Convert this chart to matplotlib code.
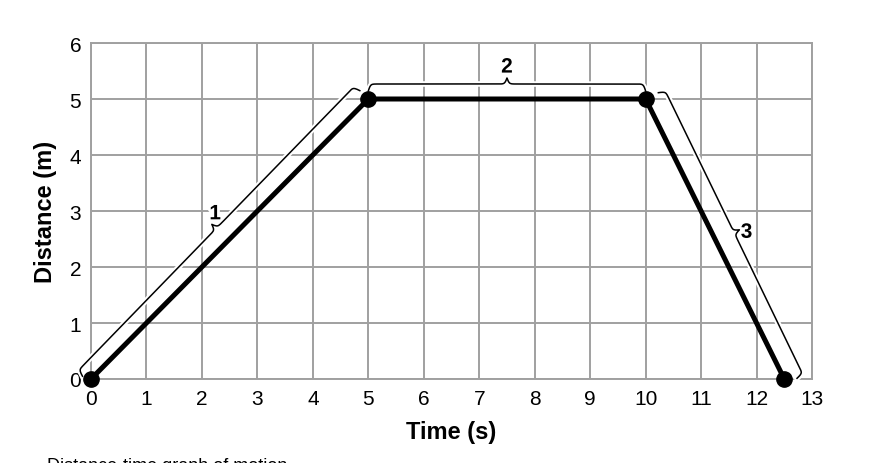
import numpy as np
import matplotlib.pyplot as plt
import matplotlib.patheffects as pe

plt.rcParams['font.family'] = ['Liberation Sans', 'DejaVu Sans']

# data
time_s = [0, 5, 10, 12.5]
distance_m = [0, 5, 5, 0]
x_ticks = list(range(0, 14))
y_ticks = list(range(0, 7))
segment_labels = ['1', '2', '3']
label_pos = [(2.24, 2.95), (7.5, 5.57), (11.82, 2.62)]

fig = plt.figure(figsize=(8.85, 4.64), dpi=100)
ax = fig.add_axes([91 / 885, 84 / 464, 721 / 885, 336 / 464])
ax.set_xlim(0, 13)
ax.set_ylim(0, 6)
ax.set_xticks(x_ticks)
ax.set_yticks(y_ticks)
ax.grid(True, color='#a0a0a0', linewidth=1.4)
ax.set_axisbelow(True)
for sp in ax.spines.values():
    sp.set_color('#a0a0a0')
    sp.set_linewidth(1.4)
ax.tick_params(length=0, labelsize=15)
ax.tick_params(axis='x', pad=7)
ax.tick_params(axis='y', pad=7)

ax.plot(time_s, distance_m, color='black', linewidth=3.6, marker='o',
        markersize=11, clip_on=False, zorder=5)

# pixels per data unit, used to draw braces in roughly screen space
sx = 721 / 13
sy = 336 / 6
halo = [pe.withStroke(linewidth=4, foreground='white')]


def brace(p0, p1, side=1, d0=8, d1=15, d2=21, beta=0.9):
    # curly brace along segment p0-p1, offset to one side (in pixels)
    a = np.array([p0[0] * sx, p0[1] * sy])
    b = np.array([p1[0] * sx, p1[1] * sy])
    v = b - a
    L = np.hypot(*v)
    u = v / L
    n = np.array([-u[1], u[0]]) * side
    tm = L / 2
    t = np.linspace(0, tm, 200)
    sig = lambda z: 1 / (1 + np.exp(-z))
    off = d0 + (d1 - d0) * 2 * (sig(beta * t) - 0.5) + (d2 - d1) * 2 * sig(beta * (t - tm))
    t_all = np.concatenate([t, L - t[::-1]])
    off_all = np.concatenate([off, off[::-1]])
    pts = a[None, :] + t_all[:, None] * u[None, :] + off_all[:, None] * n[None, :]
    ax.plot(pts[:, 0] / sx, pts[:, 1] / sy, color='black', linewidth=1.1,
            clip_on=False, zorder=4, path_effects=halo)


brace((time_s[0] - 0.05, distance_m[0] - 0.05), (time_s[1] - 0.05, distance_m[1] + 0.05), side=1)
brace((time_s[1], distance_m[1]), (time_s[2], distance_m[2]), side=1)
brace((time_s[2] + 0.1, distance_m[2] + 0.05), (time_s[3] + 0.1, distance_m[3] - 0.05), side=1)

for lab, (lx, ly) in zip(segment_labels, label_pos):
    ax.text(lx, ly, lab, fontsize=15, fontweight='bold', ha='center', va='center',
            path_effects=halo)

ax.set_xlabel('Time (s)', fontsize=17, fontweight='bold', labelpad=9)
ax.set_ylabel('Distance (m)', fontsize=17, fontweight='bold', labelpad=9)

fig.text(47 / 885, 1 - 458 / 464, 'Distance-time graph of motion', fontsize=13,
         ha='left', va='top')

fig.savefig('out.png', dpi=100)
